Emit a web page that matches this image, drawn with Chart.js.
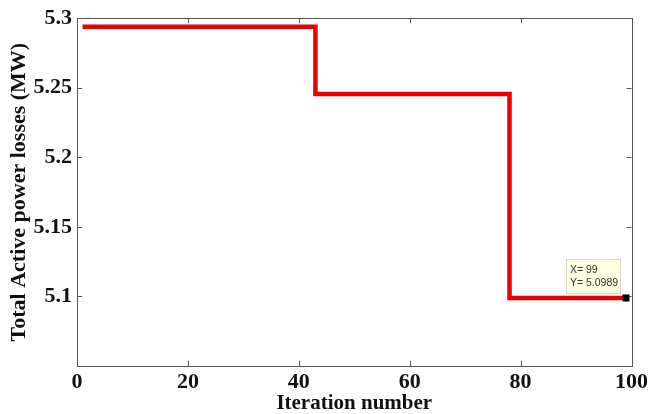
<!DOCTYPE html>
<html>
<head>
<meta charset="utf-8">
<script src="https://cdn.jsdelivr.net/npm/chart.js@4/dist/chart.umd.min.js"></script>
<style>
  html, body { margin: 0; padding: 0; background: #fff; }
  #wrap { width: 651px; height: 414px; }
</style>
</head>
<body>
<div id="wrap"><canvas id="c" width="651" height="414"></canvas></div>
<script>
// step points of the loss curve (iteration, MW)
const iterations = [1, 43, 78, 99];
const losses = [5.2938, 5.2455, 5.0989, 5.0989];

const xTicks = [0, 20, 40, 60, 80, 100];
const yTicks = [5.1, 5.15, 5.2, 5.25, 5.3];

// data tip shown in the figure
const tipX = 99;
const tipY = 5.0989;

const serif = '"Liberation Serif", "Times New Roman", serif';

// MATLAB-like box with inward ticks plus the data tip
const matlabBox = {
  id: 'matlabBox',
  afterDatasetsDraw(chart) {
    const { ctx, chartArea: a, scales } = chart;
    const len = 5;
    ctx.save();
    ctx.strokeStyle = '#555';
    ctx.lineWidth = 1;
    ctx.beginPath();
    xTicks.forEach(v => {
      const px = Math.round(scales.x.getPixelForValue(v)) + 0.5;
      ctx.moveTo(px, a.bottom); ctx.lineTo(px, a.bottom - len);
      ctx.moveTo(px, a.top); ctx.lineTo(px, a.top + len);
    });
    yTicks.forEach(v => {
      const py = Math.round(scales.y.getPixelForValue(v)) + 0.5;
      ctx.moveTo(a.left, py); ctx.lineTo(a.left + len, py);
      ctx.moveTo(a.right, py); ctx.lineTo(a.right - len, py);
    });
    ctx.stroke();
    ctx.strokeRect(Math.round(a.left) + 0.5, Math.round(a.top) + 0.5,
      Math.round(a.right - a.left), Math.round(a.bottom - a.top));

    // data tip
    const px = scales.x.getPixelForValue(tipX);
    const py = scales.y.getPixelForValue(tipY);
    ctx.fillStyle = '#000';
    ctx.fillRect(px - 3.5, py - 3.5, 7, 7);
    const bx = px - 60, by = py - 39, bw = 54, bh = 34;
    ctx.fillStyle = '#ffffe1';
    ctx.fillRect(bx, by, bw, bh);
    ctx.strokeStyle = '#d8d8c8';
    ctx.strokeRect(bx + 0.5, by + 0.5, bw, bh);
    ctx.fillStyle = '#333';
    ctx.font = '10.5px "Liberation Sans", Arial, sans-serif';
    ctx.textBaseline = 'middle';
    ctx.fillText('X= ' + tipX, bx + 4, by + 11);
    ctx.fillText('Y= ' + tipY.toFixed(4), bx + 4, by + 24);
    ctx.restore();
  }
};

new Chart(document.getElementById('c'), {
  type: 'line',
  data: {
    datasets: [{
      data: iterations.map((x, i) => ({ x: x, y: losses[i] })),
      stepped: 'before',
      borderColor: '#e80000',
      borderWidth: 4.5,
      pointRadius: 0,
      fill: false
    }]
  },
  options: {
    responsive: false,
    animation: false,
    layout: { padding: { top: 18, right: 16, left: 0, bottom: 0 } },
    plugins: { legend: { display: false }, tooltip: { enabled: false } },
    scales: {
      x: {
        type: 'linear',
        min: 0,
        max: 100,
        afterBuildTicks: s => { s.ticks = xTicks.map(v => ({ value: v })); },
        afterFit: s => { s.height = 48; },
        grid: { display: false, drawTicks: false },
        border: { display: false },
        ticks: {
          padding: 3,
          color: '#111',
          font: { family: serif, size: 22, weight: 'bold' },
          maxRotation: 0
        },
        title: {
          display: true,
          text: 'Iteration number',
          color: '#111',
          padding: 0,
          font: { family: serif, size: 21, weight: 'bold', lineHeight: 1 }
        }
      },
      y: {
        type: 'linear',
        min: 5.05,
        max: 5.3,
        afterBuildTicks: s => { s.ticks = yTicks.map(v => ({ value: v })); },
        afterFit: s => { s.width = 77; },
        grid: { display: false, drawTicks: false },
        border: { display: false },
        ticks: {
          padding: 5,
          color: '#111',
          font: { family: serif, size: 22, weight: 'bold' },
          callback: v => String(Number(v.toFixed(2)))
        },
        title: {
          display: true,
          text: 'Total Active power losses (MW)',
          color: '#111',
          padding: { top: 8 },
          font: { family: serif, size: 22, weight: 'bold', lineHeight: 1 }
        }
      }
    }
  },
  plugins: [matlabBox]
});
</script>
</body>
</html>
